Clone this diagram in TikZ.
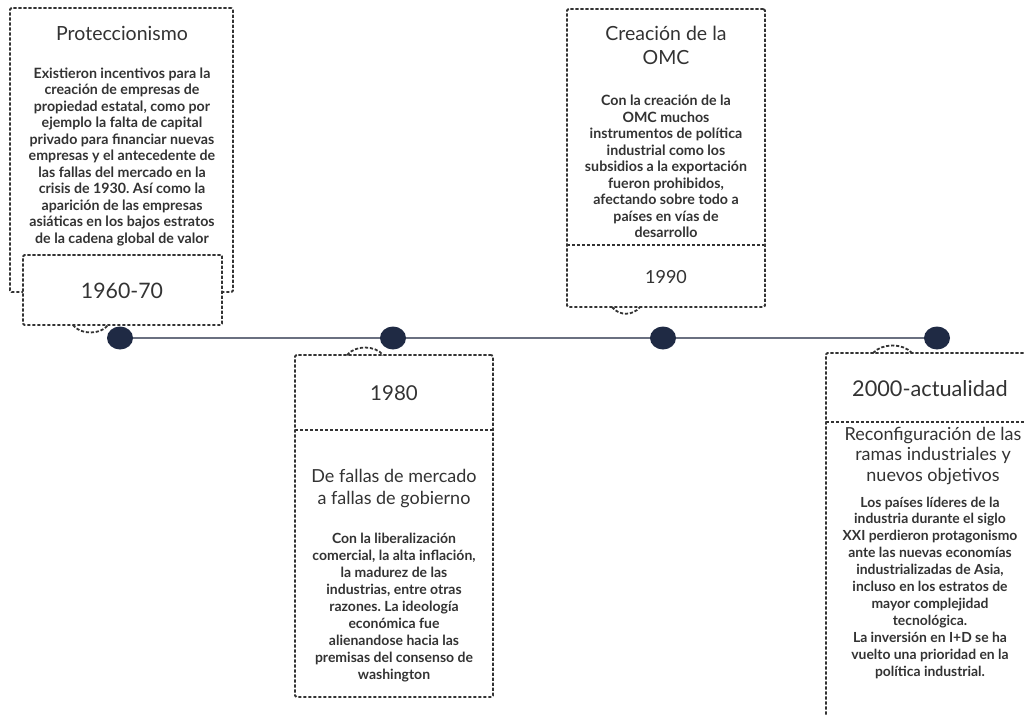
\documentclass[tikz,border=0pt]{standalone}
\usepackage{fontspec}
\setmainfont{Lato}
\usetikzlibrary{shapes.geometric}
\frenchspacing
\definecolor{dotc}{HTML}{1F2A44}
\definecolor{linec}{HTML}{6A7080}
\definecolor{dashc}{HTML}{333333}
\definecolor{txt}{HTML}{333333}
\tikzset{
  dbox/.style={draw=dashc, line width=1.8pt, dash pattern=on 3.2pt off 1.8pt, rounded corners=1.5pt, inner sep=0pt},
  dashln/.style={draw=dashc, line width=1.8pt, dash pattern=on 3.2pt off 1.8pt},
  tdot/.style={ellipse, fill=dotc, minimum width=26pt, minimum height=23pt, inner sep=0pt},
  tline/.style={draw=linec, line width=2pt},
  ttl/.style={text=txt, font=\fontsize{19.5}{24}\selectfont, align=center, inner sep=0pt},
  bodyt/.style={text=txt, font=\bfseries\fontsize{14.2}{16.5}\selectfont, align=center, inner sep=0pt},
  datet/.style={text=txt, font=\fontsize{21.3}{24}\selectfont, inner sep=0pt},
}
\begin{document}
\begin{tikzpicture}[x=1pt,y=-1pt]
\useasboundingbox (0,0) rectangle (1024,714);
\clip (0,0) rectangle (1024,714);
\fill[white] (0,0) rectangle (1024,714);

% timeline
\node[tdot] (d1) at (120,338) {};
\node[tdot] (d2) at (393,338) {};
\node[tdot] (d3) at (663,338) {};
\node[tdot] (d4) at (937,338) {};
\draw[tline] (d1) -- (d2);
\draw[tline] (d2) -- (d3);
\draw[tline] (d3) -- (d4);

% box 1
\node[dbox, minimum width=223pt, minimum height=284pt] (b1) at (121.5,150) {};
\node[dbox, fill=white, minimum width=199pt, minimum height=70pt] (b1d) at (122.5,290) {};
\draw[dashln] (73,325) .. controls (80,335) and (101,335) .. (108,325);
\node[ttl] (t1) at (122,33) {Proteccionismo};
\node[bodyt] (p1) at (122,157) {Existieron incentivos para la\\creación de empresas de\\propiedad estatal, como por\\ejemplo la falta de capital\\privado para financiar nuevas\\empresas y el antecedente de\\las fallas del mercado en la\\crisis de 1930. Así como la\\aparición de las empresas\\asiáticas en los bajos estratos\\de la cadena global de valor};
\node[datet] (y1) at (122,291) {1960-70};

% box 2
\node[dbox, minimum width=198pt, minimum height=298pt] (b2) at (666,158) {};
\draw[dashln] (567,245) -- (765,245);
\draw[dashln] (612,307) .. controls (619,316) and (633,316) .. (640,307);
\node[ttl] (t2) at (666,45) {Creación de la\\OMC};
\node[bodyt] (p2) at (666,166.5) {Con la creación de la\\OMC muchos\\instrumentos de política\\industrial como los\\subsidios a la exportación\\fueron prohibidos,\\afectando sobre todo a\\países en vías de\\desarrollo};
\node[datet, font=\fontsize{18}{22}\selectfont] (y2) at (666,277) {1990};

% box 3
\node[dbox, minimum width=198pt, minimum height=342pt] (b3) at (394,526) {};
\draw[dashln] (295,430) -- (493,430);
\draw[dashln] (347,355) .. controls (355,345) and (375,345) .. (383,355);
\node[datet, font=\fontsize{20.5}{24}\selectfont] (y3) at (394,393) {1980};
\node[ttl, font=\fontsize{18}{22}\selectfont] (t3) at (394,489) {De fallas de mercado\\a fallas de gobierno};
\node[bodyt, font=\bfseries\fontsize{14}{16.9}\selectfont] (p3) at (394,607.5) {Con la liberalización\\comercial, la alta inflación,\\la madurez de las\\industrias, entre otras\\razones. La ideología\\económica fue\\alienandose hacia las\\premisas del consenso de\\washington};

% box 4
\node[dbox, minimum width=214pt, minimum height=377pt] (b4) at (933,541.5) {};
\draw[dashln] (826,422) -- (1040,422);
\draw[dashln] (873,353) .. controls (882,343) and (903,343) .. (912,353);
\node[datet, font=\fontsize{21.7}{24}\selectfont] (y4) at (930,389) {2000-actualidad};
\node[ttl, font=\fontsize{18}{20.5}\selectfont] (t4) at (933,456) {Reconfiguración de las\\ramas industriales y\\nuevos objetivos};
\node[bodyt, font=\bfseries\fontsize{13.9}{16.9}\selectfont] (p4) at (930,587.5) {Los países líderes de la\\industria durante el siglo\\XXI perdieron protagonismo\\ante las nuevas economías\\industrializadas de Asia,\\incluso en los estratos de\\mayor complejidad\\tecnológica.\\La inversión en I+D se ha\\vuelto una prioridad en la\\política industrial.};
\end{tikzpicture}
\end{document}
